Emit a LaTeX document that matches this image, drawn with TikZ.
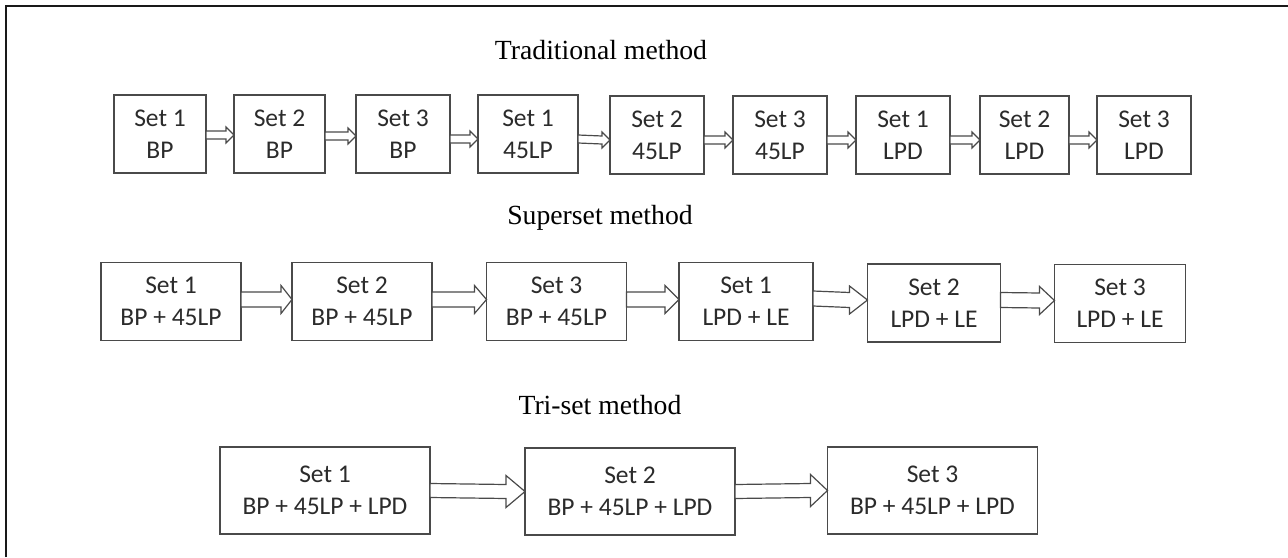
\documentclass[tikz,border=0pt]{standalone}
\usepackage{fontspec}
\setmainfont{Liberation Serif}
\newfontfamily\boxfont{Carlito}
\usetikzlibrary{calc}

% hollow block arrow between two boxes:
% #1 from, #2 to, #3 shaft half-height, #4 head half-height, #5 head length, #6 vertical offset
\newcommand\blockarrow[6]{%
  \coordinate (ba-s) at ($(#1.east)+(0,#6)$);
  \coordinate (ba-t) at ($(#2.west)+(0,#6)$);
  \draw[arrowshape] ($(ba-s)+(0,-#3)$) -- ($(ba-t)+(-#5,-#3)$) -- ($(ba-t)+(-#5,-#4)$)
    -- (ba-t) -- ($(ba-t)+(-#5,#4)$) -- ($(ba-t)+(-#5,#3)$) -- ($(ba-s)+(0,#3)$) -- cycle;}

\definecolor{boxline}{HTML}{4A4A4A}
\definecolor{boxtext}{HTML}{2B2B2B}

\begin{document}
\begin{tikzpicture}[x=1pt,y=-1pt,
  setbox/.style={draw=boxline,line width=1.4pt,fill=white,inner sep=0pt,outer sep=0pt,
    align=center,text=boxtext,font=\boxfont\fontsize{25.5}{32}\selectfont},
  arrowshape/.style={draw=boxline,line width=1.2pt,fill=white,line join=miter},
  title/.style={font=\fontsize{27.7}{32}\selectfont,text=black}]
\useasboundingbox (0,0) rectangle (1288,557);
\fill[white] (0,0) rectangle (1288,557);
\draw[line width=2.2pt,black!90] (6,557) -- (6,6) -- (1288,6);

% Traditional method
\node[title] (t1) at (601,50) {Traditional method};
\begin{scope}[every node/.style={setbox,minimum height=78pt}]
\node[minimum width=92pt]  (a1) at (160,134)   {Set 1\\BP};
\node[minimum width=91pt]  (a2) at (279.5,134) {Set 2\\BP};
\node[minimum width=94pt]  (a3) at (403,134)   {Set 3\\BP};
\node[minimum width=100pt] (a4) at (528,134)   {Set 1\\45LP};
\node[minimum width=94pt]  (a5) at (657,135)   {Set 2\\45LP};
\node[minimum width=94pt]  (a6) at (780,135)   {Set 3\\45LP};
\node[minimum width=94pt]  (a7) at (903,135)   {Set 1\\LPD};
\node[minimum width=89pt]  (a8) at (1024.5,135){Set 2\\LPD};
\node[minimum width=94pt]  (a9) at (1144,135)  {Set 3\\LPD};
\end{scope}
\blockarrow{a1}{a2}{4}{8}{8}{1}
\blockarrow{a2}{a3}{4}{8}{8}{2}
\blockarrow{a3}{a4}{4}{8}{8}{5}
\blockarrow{a4}{a5}{4}{8}{8}{5}
\blockarrow{a5}{a6}{4}{8}{8}{5}
\blockarrow{a6}{a7}{4}{8}{8}{5}
\blockarrow{a7}{a8}{4}{8}{8}{5}
\blockarrow{a8}{a9}{4}{8}{8}{5}

% Superset method
\node[title] (t2) at (600,218) {Superset method};
\begin{scope}[every node/.style={setbox,minimum height=78pt}]
\node[minimum width=140pt] (b1) at (171,301.5)   {Set 1\\BP + 45LP};
\node[minimum width=140pt] (b2) at (362,301.5)   {Set 2\\BP + 45LP};
\node[minimum width=140pt] (b3) at (556.5,301.5) {Set 3\\BP + 45LP};
\node[minimum width=134pt] (b4) at (746,301.5)   {Set 1\\LPD + LE};
\node[minimum width=133pt] (b5) at (934,303)     {Set 2\\LPD + LE};
\node[minimum width=131pt] (b6) at (1120,303.5)  {Set 3\\LPD + LE};
\end{scope}
\blockarrow{b1}{b2}{7.5}{14}{11}{-2}
\blockarrow{b2}{b3}{7.5}{14}{12}{-2}
\blockarrow{b3}{b4}{7.5}{14}{14}{-2}
\blockarrow{b4}{b5}{7.5}{14}{18}{-3}
\blockarrow{b5}{b6}{7.5}{14}{15}{-3}

% Tri-set method
\node[title] (t3) at (600,405) {Tri-set method};
\begin{scope}[every node/.style={setbox,minimum height=87pt,minimum width=210pt}]
\node (c1) at (325,490.5)   {Set 1\\BP + 45LP + LPD};
\node (c2) at (630,491.5)   {Set 2\\BP + 45LP + LPD};
\node (c3) at (932.5,490.5) {Set 3\\BP + 45LP + LPD};
\end{scope}
\blockarrow{c1}{c2}{7}{16}{19}{0}
\blockarrow{c2}{c3}{7}{16}{17}{0}
\end{tikzpicture}
\end{document}
